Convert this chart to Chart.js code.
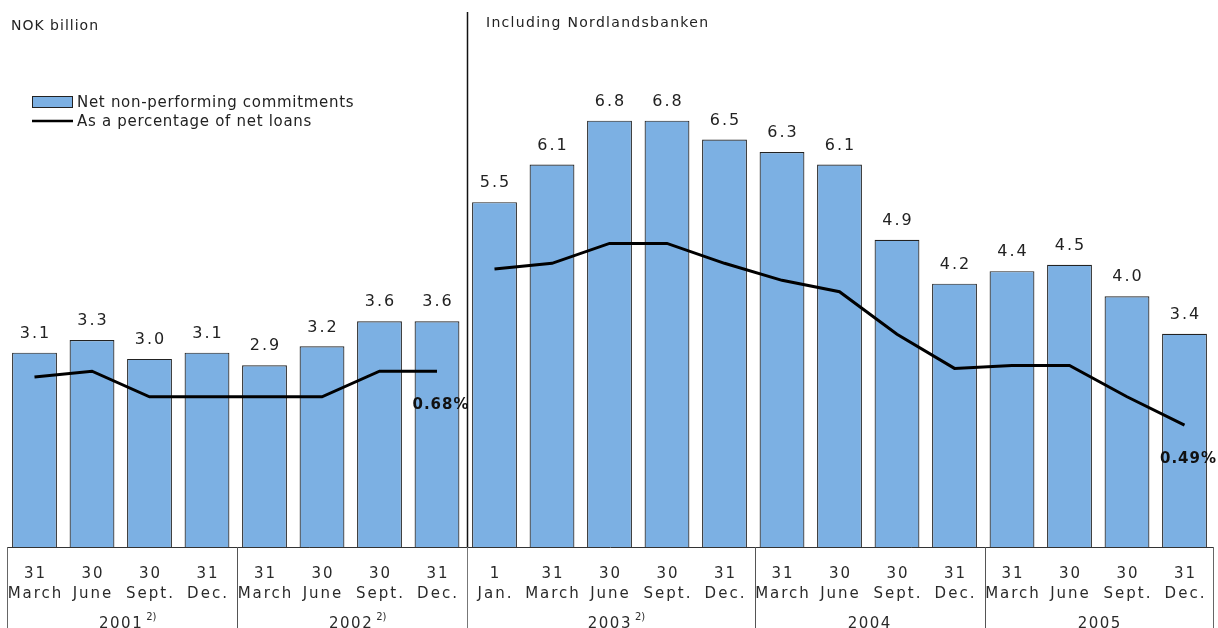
<!DOCTYPE html>
<html>
<head>
<meta charset="utf-8">
<script src="https://cdn.jsdelivr.net/npm/chart.js@4.4.1/dist/chart.umd.min.js"></script>
<style>
  html, body { margin: 0; padding: 0; background: #fff; }
  #wrap { width: 1218px; height: 628px; position: relative; }
</style>
</head>
<body>
<div id="wrap"><canvas id="c" width="1218" height="628"></canvas></div>
<script>
// ---- data ----
const dayLabels   = ['31','30','30','31','31','30','30','31','1','31','30','30','31','31','30','30','31','31','30','30','31'];
const monthLabels = ['March','June','Sept.','Dec.','March','June','Sept.','Dec.','Jan.','March','June','Sept.','Dec.','March','June','Sept.','Dec.','March','June','Sept.','Dec.'];
const years       = ['2001','2002','2003','2004','2005'];
const yearNotes   = ['2)','2)','2)','',''];
const yearCounts  = [4, 4, 5, 4, 4];
const commitments = [3.1, 3.3, 3.0, 3.1, 2.9, 3.2, 3.6, 3.6, 5.5, 6.1, 6.8, 6.8, 6.5, 6.3, 6.1, 4.9, 4.2, 4.4, 4.5, 4.0, 3.4];
const pctOfLoans  = [0.66, 0.68, 0.59, 0.59, 0.59, 0.59, 0.68, 0.68, 1.04, 1.06, 1.13, 1.13, 1.06, 1.00, 0.96, 0.81, 0.69, 0.70, 0.70, 0.59, 0.49];
const breakAfter  = 7;            // line is interrupted between these periods
const pctCallouts = { 7: '0.68%', 20: '0.49%' };
const seriesNames = ['Net non-performing commitments', 'As a percentage of net loans'];
const unitTitle   = 'NOK billion';
const sectionNote = 'Including Nordlandsbanken';

const categories = dayLabels.map((d, i) => [d, monthLabels[i]]);

const FONT = 'DejaVu Sans, Verdana, sans-serif';
const BAR_COLOR = '#7cb0e3';

const decor = {
  id: 'decor',
  afterDatasetsDraw(chart) {
    const ctx = chart.ctx;
    const xs = chart.scales.x;
    const area = chart.chartArea;
    const barMeta = chart.getDatasetMeta(0);
    const lineMeta = chart.getDatasetMeta(1);
    const step = xs.getPixelForValue(1) - xs.getPixelForValue(0);
    const edge = i => xs.getPixelForValue(i) - step / 2 + 1.5;
    ctx.save();

    // value labels above bars
    ctx.fillStyle = '#222';
    ctx.font = '16px ' + FONT;
    ctx.letterSpacing = '2px';
    ctx.textAlign = 'center';
    ctx.textBaseline = 'middle';
    barMeta.data.forEach((el, i) => {
      ctx.fillText(commitments[i].toFixed(1), el.x + 1, el.y - 19);
    });

    // percentage callouts
    ctx.font = 'bold 15px ' + FONT;
    ctx.letterSpacing = '1px';
    ctx.fillStyle = '#111';
    Object.keys(pctCallouts).forEach(k => {
      const p = lineMeta.data[+k];
      ctx.fillText(pctCallouts[k], p.x + 4, p.y + 34);
    });

    // axis box
    const bottom = area.bottom;
    const left = edge(0), right = edge(dayLabels.length) - 1.5;
    ctx.strokeStyle = '#333';
    ctx.lineWidth = 1;
    ctx.beginPath();
    ctx.moveTo(left + 0.5, bottom + 0.5);
    ctx.lineTo(right, bottom + 0.5);
    ctx.stroke();
    ctx.strokeStyle = '#666';
    ctx.beginPath();
    ctx.moveTo(Math.round(left) + 0.5, bottom);
    ctx.lineTo(Math.round(left) + 0.5, 628);
    ctx.moveTo(Math.round(right) + 0.5, bottom);
    ctx.lineTo(Math.round(right) + 0.5, 628);
    ctx.stroke();

    // category labels
    ctx.fillStyle = '#2a2a2a';
    ctx.font = '15px ' + FONT;
    ctx.letterSpacing = '2px';
    ctx.textBaseline = 'alphabetic';
    categories.forEach((lines, i) => {
      const x = xs.getPixelForValue(i) + 1;
      ctx.fillText(lines[0], x, 578);
      ctx.fillText(lines[1], x, 598);
    });

    // year groups
    let start = 0;
    years.forEach((y, g) => {
      const end = start + yearCounts[g];
      const x0 = edge(start), x1 = edge(end);
      if (g > 0) {
        ctx.strokeStyle = '#555';
        ctx.lineWidth = 1;
        ctx.beginPath();
        ctx.moveTo(Math.round(x0) + 0.5, bottom);
        ctx.lineTo(Math.round(x0) + 0.5, 628);
        ctx.stroke();
      }
      ctx.font = '15px ' + FONT;
      ctx.letterSpacing = '1.5px';
      const wy = ctx.measureText(y).width;
      ctx.font = '10px ' + FONT;
      ctx.letterSpacing = '0px';
      const note = yearNotes[g];
      const wn = note ? ctx.measureText(note).width + 4 : 0;
      const total = wy + wn;
      const cx = (x0 + x1) / 2 + (note ? 6 : 0);
      ctx.textAlign = 'left';
      ctx.font = '15px ' + FONT;
      ctx.letterSpacing = '1.5px';
      ctx.fillText(y, cx - total / 2, 628);
      if (note) {
        ctx.font = '10px ' + FONT;
        ctx.letterSpacing = '0px';
        ctx.fillText(note, cx - total / 2 + wy + 3, 620);
      }
      ctx.textAlign = 'center';
      start = end;
    });

    // section divider (Nordlandsbanken)
    const sx = Math.round(edge(breakAfter + 1)) + 0.5;
    ctx.strokeStyle = '#111';
    ctx.lineWidth = 1.5;
    ctx.beginPath();
    ctx.moveTo(sx, 12);
    ctx.lineTo(sx, bottom);
    ctx.stroke();
    ctx.strokeStyle = '#777';
    ctx.lineWidth = 1;
    ctx.beginPath();
    ctx.moveTo(sx, bottom);
    ctx.lineTo(sx, 628);
    ctx.stroke();

    // titles
    ctx.fillStyle = '#222';
    ctx.textAlign = 'left';
    ctx.font = '14px ' + FONT;
    ctx.letterSpacing = '1px';
    ctx.fillText(unitTitle, 11, 30);
    ctx.letterSpacing = '1.3px';
    ctx.fillText(sectionNote, 486, 27);

    // legend
    ctx.fillStyle = BAR_COLOR;
    ctx.fillRect(32.5, 96.5, 40, 11);
    ctx.strokeStyle = '#222';
    ctx.lineWidth = 1;
    ctx.strokeRect(32.5, 96.5, 40, 11);
    ctx.strokeStyle = '#000';
    ctx.lineWidth = 2.5;
    ctx.beginPath();
    ctx.moveTo(32, 121);
    ctx.lineTo(73, 121);
    ctx.stroke();
    ctx.fillStyle = '#222';
    ctx.font = '15px ' + FONT;
    ctx.letterSpacing = '0.7px';
    ctx.textBaseline = 'middle';
    ctx.fillText(seriesNames[0], 77, 103);
    ctx.fillText(seriesNames[1], 77, 122);

    ctx.restore();
  }
};

new Chart(document.getElementById('c'), {
  data: {
    labels: categories,
    datasets: [
      {
        type: 'bar',
        label: seriesNames[0],
        data: commitments,
        backgroundColor: BAR_COLOR,
        borderColor: '#222',
        borderWidth: 1.2,
        barPercentage: 0.78,
        categoryPercentage: 1,
        yAxisID: 'y',
        order: 2
      },
      {
        type: 'line',
        label: seriesNames[1],
        data: pctOfLoans,
        borderColor: '#000',
        borderWidth: 3,
        pointRadius: 0,
        tension: 0,
        yAxisID: 'y2',
        order: 1,
        segment: {
          borderColor: c => c.p0DataIndex === breakAfter ? 'rgba(0,0,0,0)' : '#000'
        }
      }
    ]
  },
  options: {
    responsive: false,
    devicePixelRatio: 1,
    animation: false,
    layout: { padding: { left: 5.75, right: 4.75, top: 10, bottom: 81 } },
    plugins: { legend: { display: false }, tooltip: { enabled: false } },
    scales: {
      x: { type: 'category', display: false, offset: true },
      y: { display: false, min: 0, max: 8.565 },
      y2: { display: false, min: 0.061, max: 1.952, position: 'right' }
    }
  },
  plugins: [decor]
});
</script>
</body>
</html>
